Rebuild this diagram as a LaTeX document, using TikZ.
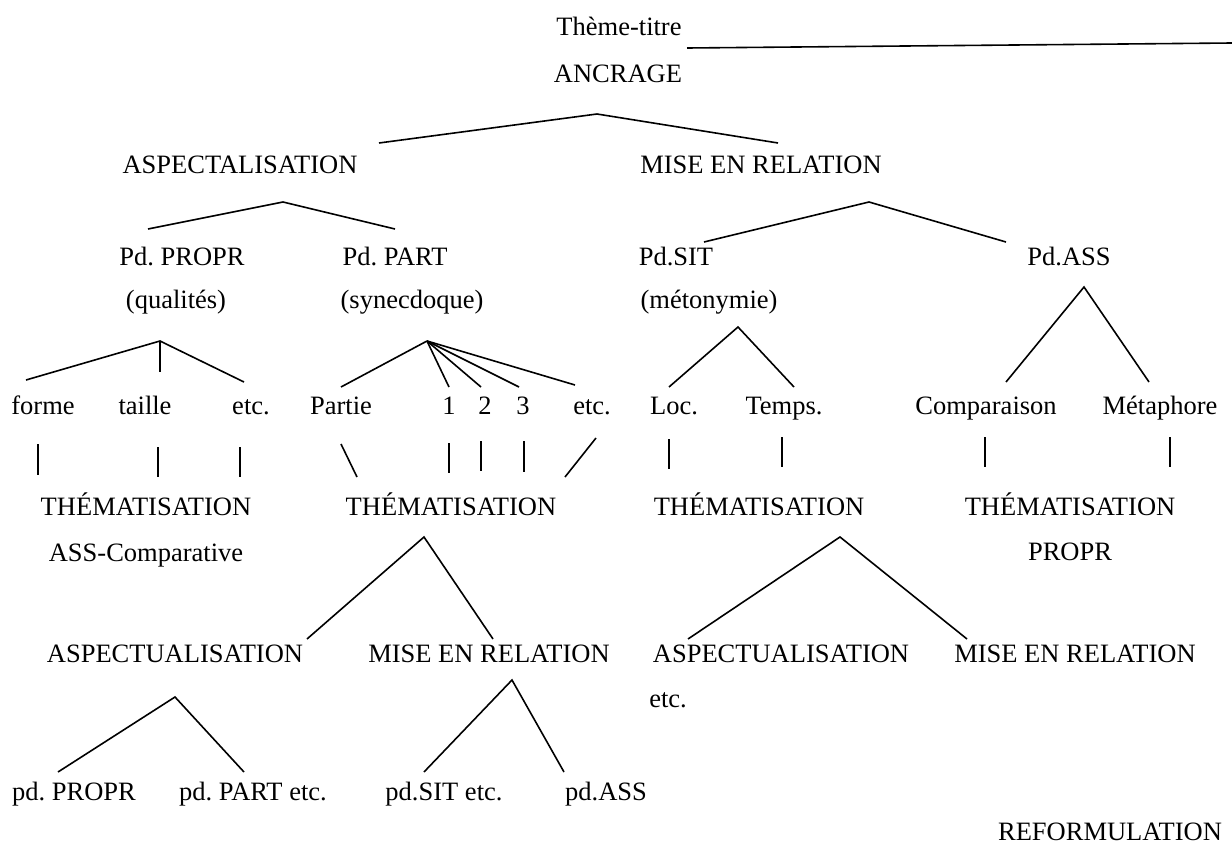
\documentclass[tikz,border=0pt]{standalone}
\usepackage{fontspec}
\setmainfont{Liberation Serif}
\frenchspacing
\tikzset{
  term/.style={anchor=base, inner sep=0pt, font=\fontsize{13.25}{16}\selectfont},
  branch/.style={line width=0.8pt, line join=miter},
}
\begin{document}
\begin{tikzpicture}[x=0.5pt,y=-0.5pt]
  % one unit = one pixel of the page, y runs downwards
  \useasboundingbox (0,0) rectangle (1232,846);

  % --- top: title and anchoring
  \node[term] (titre) at (619,35) {Thème-titre};
  \node[term] (ancr)  at (618,82) {ANCRAGE};

  % --- first level
  \node[term] (aspect) at (240,173) {ASPECTALISATION};
  \node[term] (miser)  at (761,173) {MISE EN RELATION};

  % --- procedures
  \node[term] (propr) at (182,265) {Pd. PROPR};
  \node[term] (part)  at (395,265) {Pd. PART};
  \node[term] (sit)   at (676,265) {Pd.SIT};
  \node[term] (ass)   at (1069,265) {Pd.ASS};
  \node[term] (qual)  at (176,308) {(qualités)};
  \node[term] (syn)   at (412,308) {(synecdoque)};
  \node[term] (meto)  at (709,308) {(métonymie)};

  % --- terms
  \node[term] (forme)  at (43,414)  {forme};
  \node[term] (taille) at (145,414) {taille};
  \node[term] (etcq)   at (251,414) {etc.};
  \node[term] (partie) at (341,414) {Partie};
  \node[term] (un)     at (449,414) {1};
  \node[term] (deux)   at (485,414) {2};
  \node[term] (trois)  at (523,414) {3};
  \node[term] (etcs)   at (592,414) {etc.};
  \node[term] (loc)    at (674,414) {Loc.};
  \node[term] (temps)  at (784,414) {Temps.};
  \node[term] (comp)   at (986,414) {Comparaison};
  \node[term] (meta)   at (1160,414) {Métaphore};

  % --- thematisations
  \node[term] (themA) at (146,515)  {THÉMATISATION};
  \node[term] (themB) at (451,515)  {THÉMATISATION};
  \node[term] (themC) at (759,515)  {THÉMATISATION};
  \node[term] (themD) at (1070,515) {THÉMATISATION};
  \node[term] (asscomp) at (146,561)  {ASS-Comparative};
  \node[term] (proprD)  at (1070,560) {PROPR};

  % --- second round
  \node[term] (aspuB)  at (175,662)  {ASPECTUALISATION};
  \node[term] (miserB) at (489,662)  {MISE EN RELATION};
  \node[term] (aspuC)  at (781,662)  {ASPECTUALISATION};
  \node[term] (miserC) at (1075,662) {MISE EN RELATION};
  \node[term] (etcC)   at (668,707)  {etc.};

  \node[term] (pdpropr) at (74,800)  {pd. PROPR};
  \node[term] (pdpart)  at (253,800) {pd. PART etc.};
  \node[term] (pdsit)   at (444,800) {pd.SIT etc.};
  \node[term] (pdass)   at (606,800) {pd.ASS};

  \node[term] (reform) at (1110,840) {REFORMULATION};

  % --- apexes and branch ends
  \foreach \n/\x/\y in {
      titre-l/687/48, titre-r/1232/43,
      ancr-top/597/114, ancr-l/379/143, ancr-r/778/143,
      aspect-top/283/202, aspect-l/148/229, aspect-r/395/229,
      miser-top/869/202, miser-l/704/242, miser-r/1006/242,
      qual-top/160/341, qual-l/26/380, qual-m/160/372, qual-r/244/382,
      syn-top/427/341, syn-a/341/387, syn-b/449/387, syn-c/481/387,
      syn-d/519/387, syn-e/575/385,
      meto-top/738/327, meto-l/669/387, meto-r/794/387,
      ass-top/1084/287, ass-l/1006/382, ass-r/1149/382,
      themB-top/424/537, themB-l/307/639, themB-r/493/639,
      themC-top/840/537, themC-l/688/639, themC-r/967/639,
      aspuB-top/175/697, aspuB-l/58/772, aspuB-r/244/772,
      miserB-top/512/680, miserB-l/424/772, miserB-r/564/772}
    \coordinate (\n) at (\x,\y);

  \draw[branch] (titre-l) -- (titre-r);
  \draw[branch] (ancr-l) -- (ancr-top) -- (ancr-r);
  \draw[branch] (aspect-l) -- (aspect-top) -- (aspect-r);
  \draw[branch] (miser-l) -- (miser-top) -- (miser-r);
  \draw[branch] (qual-l) -- (qual-top) -- (qual-r);
  \draw[branch] (qual-top) -- (qual-m);
  \foreach \e in {syn-a,syn-b,syn-c,syn-d,syn-e}
    \draw[branch] (syn-top) -- (\e);
  \draw[branch] (meto-l) -- (meto-top) -- (meto-r);
  \draw[branch] (ass-l) -- (ass-top) -- (ass-r);
  \draw[branch] (themB-l) -- (themB-top) -- (themB-r);
  \draw[branch] (themC-l) -- (themC-top) -- (themC-r);
  \draw[branch] (aspuB-l) -- (aspuB-top) -- (aspuB-r);
  \draw[branch] (miserB-l) -- (miserB-top) -- (miserB-r);

  % --- short strokes from the terms down to the thematisations
  \foreach \n/\xa/\ya/\xb/\yb in {
      forme/38/444/38/475, taille/158/447/158/477, etcq/240/447/240/477,
      partie/341/444/357/477, un/449/443/449/473, deux/481/441/481/471,
      trois/524/441/524/472, etcs/596/438/565/477,
      loc/669/439/669/469, temps/782/437/782/467,
      comp/985/437/985/467, meta/1170/437/1170/467} {
    \coordinate (\n-up) at (\xa,\ya);
    \coordinate (\n-dn) at (\xb,\yb);
    \draw[branch] (\n-up) -- (\n-dn);
  }
\end{tikzpicture}
\end{document}
